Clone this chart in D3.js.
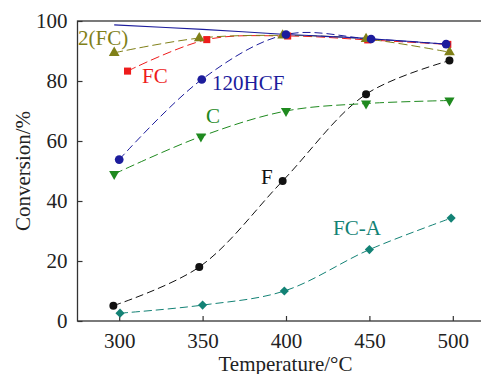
<!DOCTYPE html>
<html><head><meta charset="utf-8">
<script src="https://cdn.jsdelivr.net/npm/d3@7"></script>
<style>body{margin:0;background:#fff}svg{display:block}svg text{font-family:"Liberation Serif","Times New Roman","DejaVu Serif",serif !important}</style>
</head><body><svg id="c" width="481" height="374"></svg>
<script>
const xTicks = [300, 350, 400, 450, 500];
const yTicks = [0, 20, 40, 60, 80, 100];

const tF = [296.5, 348, 398, 448, 498];
const vF = [5.1, 18, 46.7, 75.6, 86.8];
const tFCA = [300.5, 350, 399, 450, 499];
const vFCA = [2.6, 5.3, 10, 23.8, 34.3];
const tC = [297, 349, 400, 448, 498];
const vC = [49, 61.5, 70, 72.5, 73.5];
const tFC = [305, 352.5, 401, 449, 497];
const vFC = [83.3, 93.8, 95, 93.7, 92.2];
const t2FC = [297, 348, 398, 448, 498];
const v2FC = [89.4, 94.3, 95.2, 94, 89.6];
const tHCF = [300, 349.5, 400, 451, 496];
const vHCF = [53.8, 80.5, 95.5, 94, 92.3];
const tEq = [297, 350, 398, 451, 496];
const vEq = [98.7, 97.2, 95.6, 94.1, 92.3];

const names = ["F", "FC-A", "C", "FC", "2(FC)", "120HCF"];
const colors = ["#111111", "#138275", "#1f8a1f", "#ee1c1c", "#808018", "#1c1c9c"];
const FONT = '"Liberation Serif", "Times New Roman", serif';

const svg = d3.select("#c");
const x = d3.scaleLinear().domain([275, 525]).range([77.5, 494.5]);
const y = d3.scaleLinear().domain([0, 100]).range([321, 21]);

svg.append("rect").attr("x", x(275)).attr("y", y(100)).attr("width", x(525) - x(275)).attr("height", y(0) - y(100))
  .attr("fill", "none").attr("stroke", "#333").attr("stroke-width", 1.3);

const xa = svg.append("g").attr("transform", `translate(0,${y(0)})`)
  .call(d3.axisBottom(x).tickValues(xTicks).tickSize(-5).tickPadding(12).tickFormat(d3.format("d")));
const ya = svg.append("g").attr("transform", `translate(${x(275)},0)`)
  .call(d3.axisLeft(y).tickValues(yTicks).tickSize(-5).tickPadding(10).tickFormat(d3.format("d")));
[xa, ya].forEach(g => {
  g.attr("font-family", FONT);
  g.select(".domain").remove();
  g.selectAll(".tick line").attr("stroke", "#333").attr("stroke-width", 1.2);
  g.selectAll(".tick text").attr("font-size", 21).attr("fill", "#222").attr("font-family", FONT);
});

svg.append("text").attr("x", 285.5).attr("y", 371).attr("text-anchor", "middle").attr("font-size", 21).attr("font-family", FONT).attr("fill", "#222").text("Temperature/°C");
svg.append("text").attr("transform", "translate(30,171) rotate(-90)").attr("text-anchor", "middle").attr("font-size", 21).attr("font-family", FONT).attr("fill", "#222").text("Conversion/%");

const line = d3.line().x(d => x(d[0])).y(d => y(d[1])).curve(d3.curveCatmullRom.alpha(0.5));
const zip = (t, v) => t.map((d, i) => [d, v[i]]);

const series = [
  {d: zip(tF, vF), c: colors[0], sym: "circle", s: 50, dash: "8,4"},
  {d: zip(tFCA, vFCA), c: colors[1], sym: "diamond", s: 42, dash: "8,4"},
  {d: zip(tC, vC), c: colors[2], sym: "tridown", s: 45, dash: "9,4"},
  {d: zip(tFC, vFC), c: colors[3], sym: "square", s: 50, dash: "9,4"},
  {d: zip(t2FC, v2FC), c: colors[4], sym: "triangle", s: 50, dash: "9,4"},
  {d: zip(tHCF, vHCF), c: colors[5], sym: "circle", s: 60, dash: "8,4"}
];

const symMap = {circle: d3.symbolCircle, diamond: d3.symbolSquare, square: d3.symbolSquare, triangle: d3.symbolTriangle, tridown: d3.symbolTriangle};
const rot = {tridown: " rotate(180)", diamond: " rotate(45)"};

series.forEach(s => {
  svg.append("path").datum(s.d).attr("d", line).attr("fill", "none").attr("stroke", s.c)
    .attr("stroke-width", 1).attr("stroke-dasharray", s.dash);
});
svg.append("path").datum(zip(tEq, vEq)).attr("d", line).attr("fill", "none").attr("stroke", colors[5]).attr("stroke-width", 1.1);

series.forEach(s => {
  svg.append("g").selectAll("path").data(s.d).join("path")
    .attr("d", d3.symbol().type(symMap[s.sym]).size(s.s))
    .attr("transform", d => `translate(${x(d[0])},${y(d[1])})${rot[s.sym] || ""}`)
    .attr("fill", s.c);
});

const labels = [
  {t: "2(FC)", xp: 78, yp: 45, c: colors[4]},
  {t: "FC", xp: 142, yp: 83, c: colors[3]},
  {t: "120HCF", xp: 212, yp: 90, c: colors[5]},
  {t: "C", xp: 206, yp: 123, c: colors[2]},
  {t: "F", xp: 261, yp: 184, c: colors[0]},
  {t: "FC-A", xp: 333, yp: 235, c: colors[1]}
];
svg.append("g").selectAll("text").data(labels).join("text")
  .attr("x", d => d.xp).attr("y", d => d.yp).attr("fill", d => d.c).attr("font-size", 21).attr("font-family", FONT).text(d => d.t);
</script></body></html>
